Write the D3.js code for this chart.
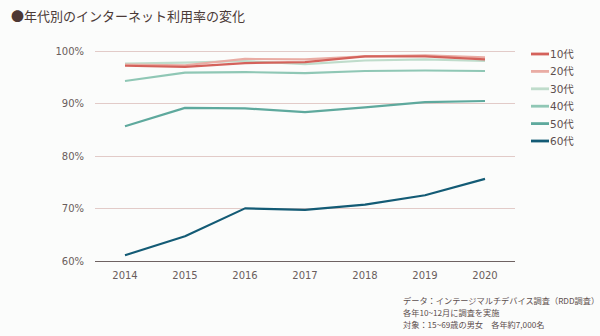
<!DOCTYPE html>
<html>
<head>
<meta charset="utf-8">
<script src="https://cdn.jsdelivr.net/npm/d3@7"></script>
<style>
  body { margin: 0; background: #fbfcfb; }
  text { font-family: "DejaVu Sans", "Noto Sans CJK JP", sans-serif; }
  .jp { font-family: "Noto Sans CJK JP", sans-serif; }
</style>
</head>
<body>
<div id="chart"></div>
<script>
// survey years and age groups
const years = ["2014", "2015", "2016", "2017", "2018", "2019", "2020"];
const groups = ["10代", "20代", "30代", "40代", "50代", "60代"];
const groupColors = ["#d4625b", "#e9aca4", "#bfdccb", "#8fc7b5", "#5ea99d", "#135b75"];

// internet usage rate (%) per age group
const teens   = [97.1, 96.9, 97.6, 97.8, 98.9, 98.9, 98.3];
const twenties = [97.3, 97.2, 98.4, 98.3, 98.9, 99.1, 98.7];
const thirties = [97.5, 97.7, 98.0, 97.4, 98.1, 98.3, 98.0];
const forties = [94.2, 95.8, 95.9, 95.7, 96.1, 96.2, 96.1];
const fifties = [85.6, 89.1, 89.0, 88.3, 89.2, 90.2, 90.4];
const sixties = [61.1, 64.7, 70.0, 69.7, 70.7, 72.5, 75.6];
const yTicks = [60, 70, 80, 90, 100];

const series = [teens, twenties, thirties, forties, fifties, sixties];

let width = 600;
let height = 336;
let svg = d3.select("#chart")
  .append("svg")
  .attr("width", width)
  .attr("height", height);

// title
let title = svg.append("text")
  .attr("class", "jp")
  .attr("x", 11)
  .attr("y", 21)
  .attr("font-size", 13)
  .attr("fill", "#4b3a37");
title.append("tspan").attr("fill", "#4e3833").text("●");
title.append("tspan").text("年代別のインターネット利用率の変化");

let x = d3.scaleBand()
  .domain(years)
  .range([95, 515]);

let y = d3.scaleLinear()
  .domain([60, 100])
  .range([261, 50.5]);

// gridlines
svg.append("g")
  .selectAll("line")
  .data(yTicks)
  .enter()
    .append("line")
    .attr("x1", 95)
    .attr("x2", 515)
    .attr("y1", d => Math.round(y(d)) + 0.5)
    .attr("y2", d => Math.round(y(d)) + 0.5)
    .attr("stroke", d => d === 60 ? "#6e6262" : "#e2cbc8")
    .attr("stroke-width", 1);

// y axis labels
svg.append("g")
  .selectAll("text")
  .data(yTicks)
  .enter()
    .append("text")
    .attr("x", 84)
    .attr("y", d => y(d) + 4)
    .attr("text-anchor", "end")
    .attr("font-size", 10)
    .attr("fill", "#6a5d5c")
    .text(d => d + "%");

// x axis labels
svg.append("g")
  .selectAll("text")
  .data(years)
  .enter()
    .append("text")
    .attr("x", d => x(d) + x.bandwidth() / 2)
    .attr("y", 279)
    .attr("text-anchor", "middle")
    .attr("font-size", 10)
    .attr("fill", "#6a5d5c")
    .text(d => d);

let line = d3.line()
  .x((d, i) => x(years[i]) + x.bandwidth() / 2)
  .y(d => y(d));

// draw lines back to front so the young groups sit on top
svg.append("g")
  .selectAll("path")
  .data(series.map((s, i) => ({ values: s, color: groupColors[i] })).reverse())
  .enter()
    .append("path")
    .attr("d", d => line(d.values))
    .attr("fill", "none")
    .attr("stroke", d => d.color)
    .attr("stroke-width", 2.2)
    .attr("stroke-linejoin", "round");

// legend
let legend = svg.append("g")
  .selectAll("g")
  .data(groups)
  .enter()
    .append("g")
    .attr("transform", (d, i) => "translate(531," + (54 + i * 17.4) + ")");

legend.append("line")
  .attr("x1", 0)
  .attr("x2", 18)
  .attr("stroke", (d, i) => groupColors[i])
  .attr("stroke-width", 2.8);

legend.append("text")
  .attr("x", 19)
  .attr("y", 4)
  .attr("font-size", 10.5)
  .attr("fill", "#5d4f4e")
  .text(d => d);

// source notes
let notes = [
  "データ：インテージマルチデバイス調査（RDD調査）",
  "各年10~12月に調査を実施",
  "対象：15~69歳の男女　各年約7,000名"
];
svg.append("g")
  .selectAll("text")
  .data(notes)
  .enter()
    .append("text")
    .attr("class", "jp")
    .attr("x", 403)
    .attr("y", (d, i) => 304 + i * 12)
    .attr("font-size", 8.2)
    .attr("fill", "#5d4f4e")
    .text(d => d);
</script>
</body>
</html>
